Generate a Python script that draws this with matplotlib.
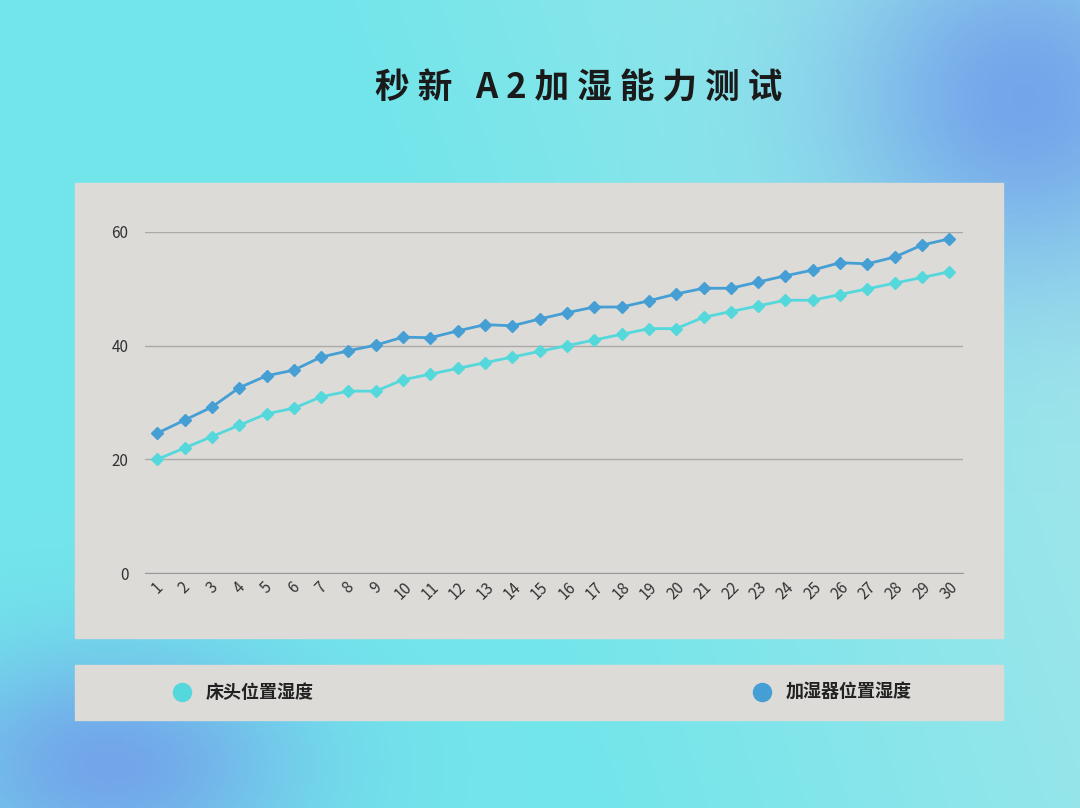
import numpy as np
import matplotlib
matplotlib.use("Agg")
import matplotlib.pyplot as plt
from matplotlib.patches import Rectangle

plt.rcParams['font.family'] = ['Noto Sans CJK SC', 'DejaVu Sans']

title = "秒 新   A 2 加 湿 能 力 测 试"
days = [str(i) for i in range(1, 31)]
bedside = [20,22,24,26,28,29,31,32,32,34,35,36,37,38,39,40,41,42,43,43,45,46,47,48,48,49,50,51,52,53]
humidifier = [24.6,26.9,29.2,32.6,34.7,35.7,38.0,39.1,40.1,41.5,41.4,42.6,43.7,43.5,44.7,45.8,46.8,46.8,47.9,49.1,
              50.1,50.1,51.2,52.3,53.3,54.6,54.4,55.6,57.7,58.8]
names = ["床头位置湿度", "加湿器位置湿度"]
colors = ["#55d8dc", "#459fd4"]
yticks = [0, 20, 40, 60]

W, H = 1080, 808
fig = plt.figure(figsize=(W/100, H/100), dpi=100)

bg = fig.add_axes([0, 0, 1, 1])
yy, xx = np.mgrid[0:1:200j, 0:1:270j]
c1 = np.array([0.45, 0.90, 0.92]); c2 = np.array([0.45, 0.65, 0.92]); c3 = np.array([0.62, 0.90, 0.92])
t = np.clip((xx * 0.8 + (1 - yy) * 0.2 - 0.45) * 2.2, 0, 1)
blob = np.exp(-((xx - 0.95) ** 2 / 0.03 + (yy - 0.12) ** 2 / 0.05))
blob2 = np.exp(-((xx - 0.1) ** 2 / 0.03 + (yy - 0.95) ** 2 / 0.02))
img = c1[None, None, :] * (1 - t[..., None]) + c3[None, None, :] * t[..., None]
b = np.clip(blob + blob2, 0, 1)[..., None]
img = img * (1 - b) + c2[None, None, :] * b
bg.imshow(img, extent=[0, 1, 0, 1], aspect='auto', origin='upper')
bg.set_xlim(0, 1); bg.set_ylim(0, 1); bg.axis('off')

def fx(px): return px / W
def fy(py): return 1 - py / H

bg.add_patch(Rectangle((fx(75), fy(638)), fx(928), (638 - 183) / H, color="#dcdbd8", zorder=2))
bg.add_patch(Rectangle((fx(75), fy(720)), fx(928), (720 - 665) / H, color="#dcdbd8", zorder=2))
bg.text(fx(579), fy(88), title, ha='center', va='center', fontsize=25, fontweight='bold', color='#1a1a1a', zorder=3)

for nm, c, x in zip(names, colors, [182, 762]):
    bg.plot([fx(x)], [fy(692)], 'o', ms=13, color=c, zorder=4)
    bg.text(fx(x + 24), fy(692), nm, ha='left', va='center', fontsize=13, fontweight='bold', color='#222', zorder=4)

ax = fig.add_axes([fx(145), fy(573), fx(963 - 145), (573 - 232) / H])
ax.set_facecolor('none')
x = np.arange(len(days))
ax.plot(x, bedside, '-D', color=colors[0], ms=6, lw=2, zorder=3)
ax.plot(x, humidifier, '-D', color=colors[1], ms=6, lw=2, zorder=3)
ax.set_xlim(-0.45, 29.5)
ax.set_ylim(0, 60)
ax.set_yticks(yticks)
ax.set_xticks(x)
ax.set_xticklabels(days, rotation=45, fontsize=11, color='#333')
ax.tick_params(axis='y', labelsize=11, colors='#333', length=0, pad=12)
ax.tick_params(axis='x', length=0, pad=4)
ax.grid(axis='y', color='#aaaaaa', lw=1)
for s in ['top', 'right', 'left']:
    ax.spines[s].set_visible(False)
ax.spines['bottom'].set_color('#999')
fig.savefig("out.png", dpi=100)
